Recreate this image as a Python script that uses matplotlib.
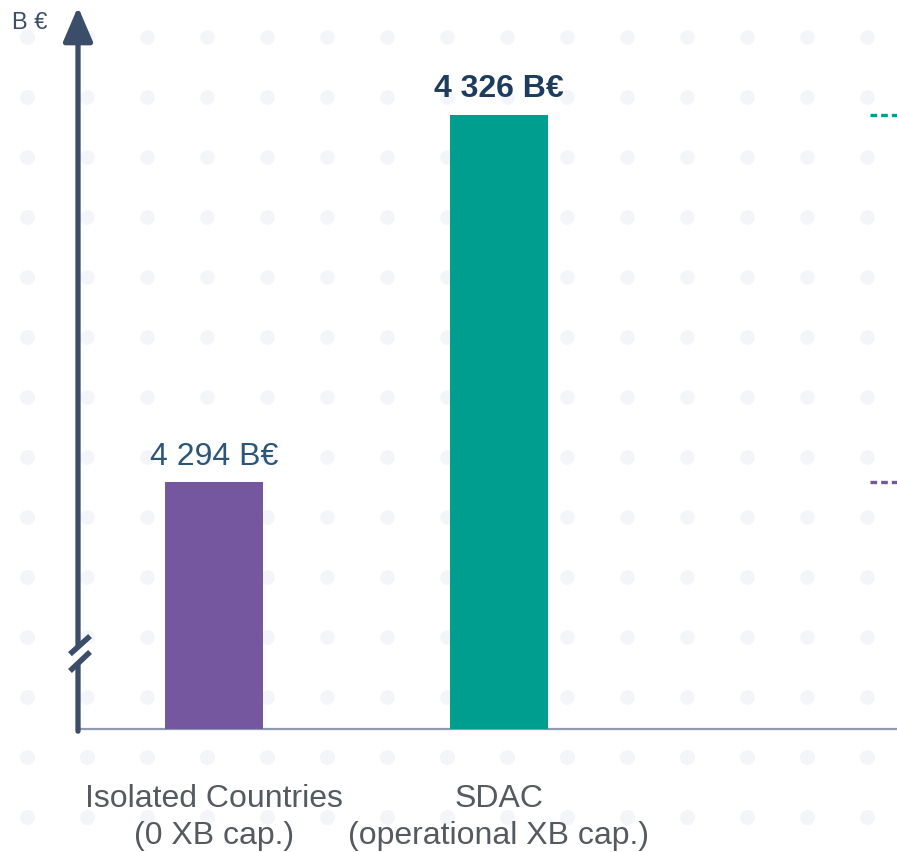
import matplotlib
matplotlib.use("Agg")
import matplotlib.pyplot as plt
import numpy as np

plt.rcParams['font.family'] = ['Liberation Sans', 'DejaVu Sans']

#data
categories = ["Isolated Countries\n(0 XB cap.)", "SDAC\n(operational XB cap.)"]
values = [4294, 4326]
labels = ["4 294 B€", "4 326 B€"]
colors = ["#75579f", "#009e8e"]
label_colors = ["#2b5579", "#1e3d5e"]
label_weights = ["normal", "bold"]

axis_col = "#3b4d69"

fig = plt.figure(figsize=(8.97, 8.53), dpi=100)
ax = fig.add_axes([78/897, 123/853, 819/897, 720/853])

#faint decorative dot grid in the background
gx, gy = np.meshgrid(np.arange(27, 897, 60), np.arange(38, 853, 60))
fig.add_artist(plt.scatter(gx.ravel()/897, 1 - gy.ravel()/853, s=90, color="#f3f5f9",
                           transform=fig.transFigure, zorder=0, clip_on=False))

x = np.arange(len(values))
ax.bar(x, values, width=0.345, color=colors, zorder=3)
ax.set_xlim(-0.478, 2.4)
ax.set_ylim(4272.5, 4335.2)

#value labels
for i in range(len(values)):
    ax.text(x[i], values[i] + 1.0, labels[i], ha='center', va='bottom', fontsize=23,
            color=label_colors[i], fontweight=label_weights[i], zorder=4)

#dashed reference lines at the right edge
for i in range(len(values)):
    ax.plot([2.306, 2.4], [values[i], values[i]], ls=(0, (2, 1.2)), lw=2.4,
            color=colors[i], zorder=3, clip_on=False)

#category labels
ax.set_xticks(x)
ax.set_xticklabels(categories, fontsize=23, color="#555a60", linespacing=1.3)
ax.tick_params(axis='x', length=0, pad=39)
ax.set_yticks([])

for s in ['top', 'right', 'left']:
    ax.spines[s].set_visible(False)
ax.spines['bottom'].set_color("#8e9ab0")
ax.spines['bottom'].set_linewidth(1.6)
ax.spines['bottom'].set_zorder(2)

#y axis with arrow
ax.annotate('', xy=(0, 1.003), xytext=(0, -0.003), xycoords='axes fraction',
            arrowprops=dict(arrowstyle='-|>,head_length=0.7,head_width=0.3', lw=3.8,
                            color=axis_col, mutation_scale=30, shrinkA=0, shrinkB=0),
            zorder=5)

#axis break
bx = [-0.0098, 0.0147]
poly = plt.Polygon([[bx[0], 0.0806], [bx[1], 0.107], [bx[1], 0.129], [bx[0], 0.104]],
                   closed=True, transform=ax.transAxes, color="white", zorder=6, clip_on=False)
ax.add_patch(poly)
ax.plot(bx, [0.104, 0.129], transform=ax.transAxes, color=axis_col, lw=4,
        solid_capstyle='butt', zorder=7, clip_on=False)
ax.plot(bx, [0.0806, 0.107], transform=ax.transAxes, color=axis_col, lw=4,
        solid_capstyle='butt', zorder=7, clip_on=False)

fig.text(12/897, 1 - 23/853, "B €", fontsize=17, color=axis_col, va='center', ha='left')

fig.savefig("out.png", dpi=100)
